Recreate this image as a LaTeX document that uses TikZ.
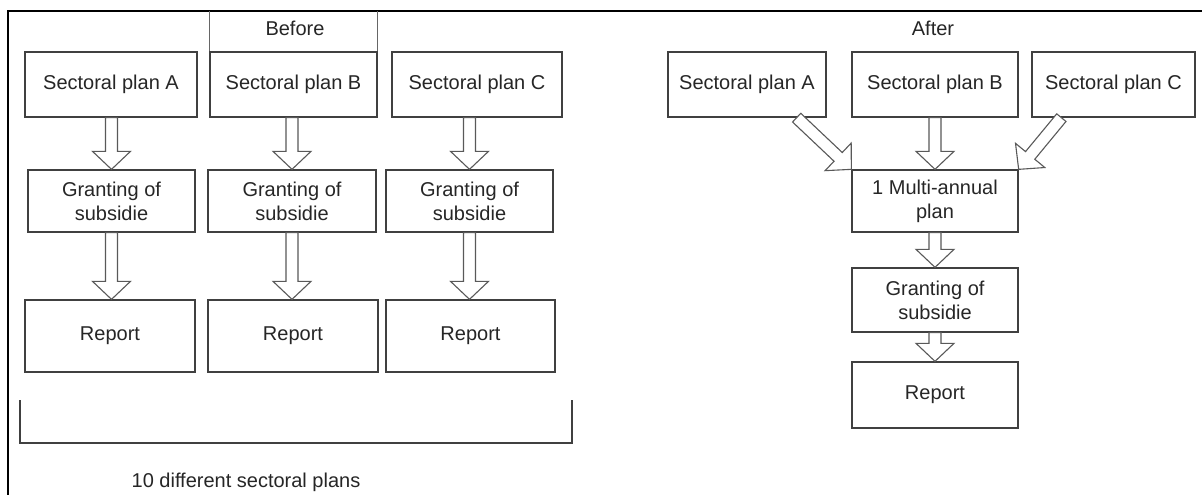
\documentclass[tikz,border=0pt]{standalone}
\usepackage{fontspec}
\setmainfont{Liberation Sans}
\usetikzlibrary{calc}
\begin{document}
\begin{tikzpicture}[x=1pt,y=-1pt,
  box/.style={draw=black!75, line width=1.3pt, align=center, inner sep=2pt,
    font=\fontsize{20}{24}\selectfont, text=black!85},
  lbl/.style={font=\fontsize{20}{24}\selectfont, text=black!85},
  frame/.style={draw=black, line width=2.5pt},
  bracket/.style={draw=black!75, line width=2pt},
  blockarrow/.style={draw=black!65, line width=1.1pt, fill=white, to path={
    let \p1=(\tikztostart), \p2=(\tikztotarget),
        \n1={atan2(\y2-\y1,\x2-\x1)}, \n2={veclen(\x2-\x1,\y2-\y1)} in
    ($(\p1)+({\n1+90}:6pt)$) -- ($(\p1)+({\n1}:{\n2-18pt})+({\n1+90}:6pt)$)
    -- ($(\p1)+({\n1}:{\n2-18pt})+({\n1+90}:19pt)$) -- (\p2)
    -- ($(\p1)+({\n1}:{\n2-18pt})+({\n1-90}:19pt)$)
    -- ($(\p1)+({\n1}:{\n2-18pt})+({\n1-90}:6pt)$)
    -- ($(\p1)+({\n1-90}:6pt)$) -- cycle}}
]
\useasboundingbox (0,0) rectangle (1202,495);
\fill[white] (0,0) rectangle (1202,495);

% frame
\coordinate (ftl) at (8,11);
\coordinate (ftr) at (1202,11);
\coordinate (fbl) at (8,495);
\draw[frame] (fbl) -- (ftl) -- (ftr);

% ---------- Before ----------
\node[lbl] (before) at (295,28) {Before};
\node[box, minimum width=172pt, minimum height=65pt] (SA) at (111,84.5) {Sectoral plan A};
\node[box, minimum width=167pt, minimum height=65pt] (SB) at (293.5,84.5) {Sectoral plan B};
\node[box, minimum width=170pt, minimum height=65pt] (SC) at (477,84.5) {Sectoral plan C};
\draw[draw=black!60, line width=1.3pt] (SB.north west) -- (SB.north west |- ftl);
\draw[draw=black!60, line width=1.3pt] (SB.north east) -- (SB.north east |- ftl);

\node[box, minimum width=167pt, minimum height=62pt] (GA) at (111.5,201) {Granting of\\subsidie};
\node[box, minimum width=168pt, minimum height=62pt] (GB) at (292,201) {Granting of\\subsidie};
\node[box, minimum width=167pt, minimum height=62pt] (GC) at (469.5,201) {Granting of\\subsidie};

\node[box, minimum width=170pt, minimum height=72pt] (RA) at (110,336) {Report};
\node[box, minimum width=170pt, minimum height=72pt] (RB) at (293,336) {Report};
\node[box, minimum width=169pt, minimum height=72pt] (RC) at (470.5,336) {Report};

\draw[blockarrow] (SA.south -| GA.north) to (GA.north);
\draw[blockarrow] (SB.south -| GB.north) to (GB.north);
\draw[blockarrow] (SC.south -| GC.north) to (GC.north);
\draw[blockarrow] (GA.south) to (GA.south |- RA.north);
\draw[blockarrow] (GB.south) to (GB.south |- RB.north);
\draw[blockarrow] (GC.south) to (GC.south |- RC.north);

% bracket
\coordinate (bl1) at (20,400);
\coordinate (bl2) at (20,443);
\coordinate (br2) at (572,443);
\coordinate (br1) at (572,400);
\draw[bracket] (bl1) -- (bl2) -- (br2) -- (br1);
\node[lbl] (ten) at (246,482) {10 different sectoral plans};

% ---------- After ----------
\node[lbl] (after) at (933,28) {After};
\node[box, minimum width=158pt, minimum height=65pt] (SA2) at (747,84.5) {Sectoral plan A};
\node[box, minimum width=166pt, minimum height=65pt] (SB2) at (935,84.5) {Sectoral plan B};
\node[box, minimum width=163pt, minimum height=65pt] (SC2) at (1113.5,84.5) {Sectoral plan C};
\node[box, minimum width=166pt, minimum height=62pt] (M) at (935,201) {1 Multi-annual\\plan};
\node[box, minimum width=166pt, minimum height=64pt] (G2) at (935,300) {Granting of\\subsidie};
\node[box, minimum width=166pt, minimum height=66pt] (R2) at (935,395) {Report};

\coordinate (a2tail) at ($(SA2.south east)+(-30,0)$);
\coordinate (c2tail) at ($(SC2.south west)+(30,0)$);
\draw[blockarrow] (a2tail) to (M.north west);
\draw[blockarrow] (SB2.south) to (M.north);
\draw[blockarrow] (c2tail) to (M.north east);
\draw[blockarrow] (M.south) to (G2.north);
\draw[blockarrow] (G2.south) to (R2.north);
\end{tikzpicture}
\end{document}
